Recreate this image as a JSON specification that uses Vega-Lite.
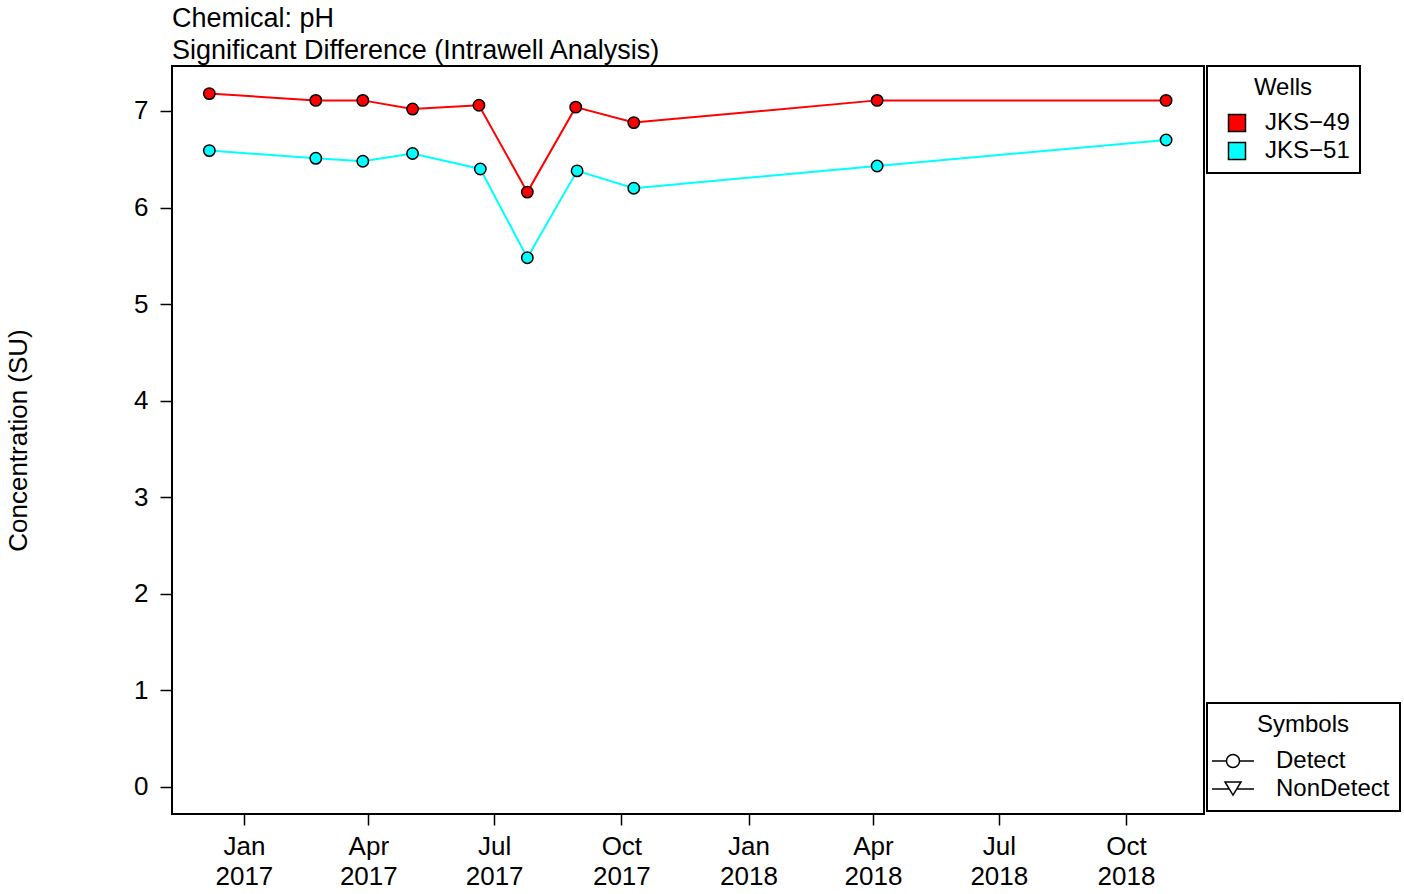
{
  "$schema": "https://vega.github.io/schema/vega-lite/v6.json",
  "width": 1032,
  "height": 748,
  "autosize": {"type": "none"},
  "padding": {"left": 172, "top": 66, "right": 200, "bottom": 80},
  "background": "white",
  "title": {
    "text": ["Chemical: pH", "Significant Difference (Intrawell Analysis)"],
    "anchor": "start",
    "frame": "group",
    "font": "Liberation Sans",
    "fontSize": 27,
    "fontWeight": "normal",
    "color": "black",
    "lineHeight": 32,
    "baseline": "bottom",
    "offset": -27
  },
  "config": {
    "font": "Liberation Sans",
    "view": {"stroke": "black", "strokeWidth": 2},
    "axis": {
      "domain": false,
      "grid": false,
      "tickColor": "black",
      "tickWidth": 1.5,
      "labelColor": "black",
      "labelFont": "Liberation Sans",
      "labelFontSize": 26,
      "titleColor": "black",
      "titleFont": "Liberation Sans",
      "titleFontWeight": "normal"
    },
    "legend": {
      "labelFont": "Liberation Sans",
      "titleFont": "Liberation Sans",
      "labelColor": "black",
      "titleColor": "black",
      "labelFontSize": 24,
      "titleFontSize": 24,
      "titleFontWeight": "normal",
      "strokeColor": "black",
      "strokeWidth": 2,
      "fillColor": "white"
    }
  },
  "datasets": {
    "obs": [
      {"date": "2016-12-07", "well": "JKS-49", "value": 7.18},
      {"date": "2017-02-22", "well": "JKS-49", "value": 7.11},
      {"date": "2017-03-28", "well": "JKS-49", "value": 7.11},
      {"date": "2017-05-03", "well": "JKS-49", "value": 7.02},
      {"date": "2017-06-20", "well": "JKS-49", "value": 7.06},
      {"date": "2017-07-25", "well": "JKS-49", "value": 6.16},
      {"date": "2017-08-29", "well": "JKS-49", "value": 7.04},
      {"date": "2017-10-10", "well": "JKS-49", "value": 6.88},
      {"date": "2018-04-04", "well": "JKS-49", "value": 7.11},
      {"date": "2018-10-30", "well": "JKS-49", "value": 7.11},
      {"date": "2016-12-07", "well": "JKS-51", "value": 6.59},
      {"date": "2017-02-22", "well": "JKS-51", "value": 6.51},
      {"date": "2017-03-28", "well": "JKS-51", "value": 6.48},
      {"date": "2017-05-03", "well": "JKS-51", "value": 6.56},
      {"date": "2017-06-21", "well": "JKS-51", "value": 6.40},
      {"date": "2017-07-25", "well": "JKS-51", "value": 5.48},
      {"date": "2017-08-30", "well": "JKS-51", "value": 6.38},
      {"date": "2017-10-10", "well": "JKS-51", "value": 6.20},
      {"date": "2018-04-04", "well": "JKS-51", "value": 6.43},
      {"date": "2018-10-30", "well": "JKS-51", "value": 6.70}
    ],
    "symbols": [
      {"symbol": "Detect"},
      {"symbol": "NonDetect"}
    ]
  },
  "layer": [
    {
      "data": {"name": "obs"},
      "mark": {"type": "line", "strokeWidth": 2},
      "encoding": {
        "x": {
          "field": "date",
          "type": "temporal",
          "scale": {"type": "utc", "domain": ["2016-11-10T00:00:00Z", "2018-11-26T10:00:00Z"], "nice": false},
          "axis": {
            "title": null,
            "values": [
              {"year": 2017, "month": 1, "date": 1, "utc": true},
              {"year": 2017, "month": 4, "date": 1, "utc": true},
              {"year": 2017, "month": 7, "date": 1, "utc": true},
              {"year": 2017, "month": 10, "date": 1, "utc": true},
              {"year": 2018, "month": 1, "date": 1, "utc": true},
              {"year": 2018, "month": 4, "date": 1, "utc": true},
              {"year": 2018, "month": 7, "date": 1, "utc": true},
              {"year": 2018, "month": 10, "date": 1, "utc": true}
            ],
            "labelExpr": "[utcFormat(datum.value, '%b'), utcFormat(datum.value, '%Y')]",
            "labelLineHeight": 30,
            "tickSize": 11,
            "labelPadding": 8,
            "labelFlush": false,
            "labelOverlap": false
          }
        },
        "y": {
          "field": "value",
          "type": "quantitative",
          "scale": {"domain": [-0.28, 7.466], "nice": false, "zero": false},
          "axis": {
            "title": "Concentration (SU)",
            "titleFontSize": 26,
            "values": [0, 1, 2, 3, 4, 5, 6, 7],
            "format": "d",
            "tickSize": 12,
            "labelPadding": 12,
            "titleX": -154,
            "titleY": 374,
            "titleAngle": 270,
            "titleAlign": "center",
            "titleBaseline": "middle"
          }
        },
        "color": {
          "field": "well",
          "type": "nominal",
          "scale": {"range": ["#FF0000", "#00FFFF"]},
          "legend": null
        }
      }
    },
    {
      "data": {"name": "obs"},
      "mark": {"type": "point", "filled": true, "stroke": "black", "strokeWidth": 1.5, "size": 130, "opacity": 1},
      "encoding": {
        "x": {"field": "date", "type": "temporal"},
        "y": {"field": "value", "type": "quantitative"},
        "fill": {
          "field": "well",
          "type": "nominal",
          "scale": {"domain": ["JKS-49", "JKS-51"], "range": ["#FF0000", "#00FFFF"]},
          "legend": {
            "title": "Wells",
            "orient": "none",
            "legendX": 1035,
            "legendY": 0,
            "symbolType": "square",
            "symbolSize": 289,
            "symbolStrokeColor": "black",
            "symbolStrokeWidth": 1.5,
            "symbolOpacity": 1,
            "padding": 10,
            "symbolOffset": 8,
            "labelOffset": 16,
            "rowPadding": 4,
            "titleAnchor": "middle",
            "titlePadding": 11,
            "labelExpr": "replace(datum.label, '-', '−')"
          }
        }
      }
    },
    {
      "data": {"name": "symbols"},
      "transform": [{"filter": "false"}],
      "mark": {"type": "point", "color": "black", "strokeWidth": 1.5, "size": 196, "opacity": 1},
      "encoding": {
        "shape": {
          "field": "symbol",
          "type": "nominal",
          "scale": {
            "domain": ["Detect", "NonDetect"],
            "range": [
              "M-3,0L-0.929,0M0.929,0L3,0M-0.929,0A0.929,0.929,0,1,1,0.929,0A0.929,0.929,0,1,1,-0.929,0Z",
              "M-3,0L-0.528,0M0.528,0L3,0M-1.142,-1L1.142,-1L0,0.86Z"
            ]
          },
          "legend": {
            "title": "Symbols",
            "orient": "none",
            "legendX": 1035,
            "legendY": 637,
            "symbolSize": 196,
            "symbolStrokeColor": "black",
            "symbolStrokeWidth": 1.5,
            "symbolFillColor": "white",
            "symbolOpacity": 1,
            "padding": 10,
            "symbolOffset": 4,
            "labelOffset": 31,
            "rowPadding": 4,
            "titleAnchor": "middle",
            "titlePadding": 12
          }
        }
      }
    }
  ]
}
